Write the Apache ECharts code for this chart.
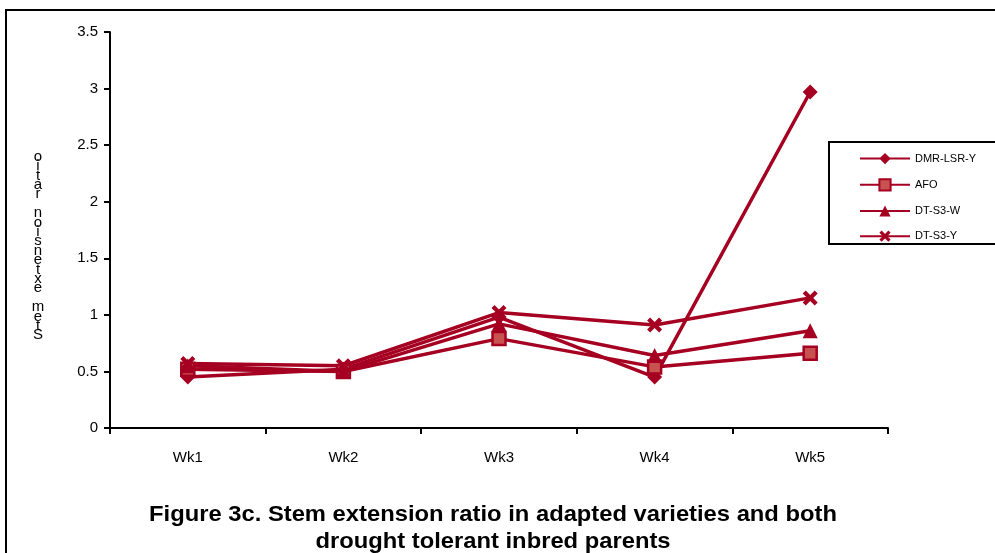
<!DOCTYPE html>
<html>
<head>
<meta charset="utf-8">
<script src="https://cdn.jsdelivr.net/npm/echarts@6/dist/echarts.min.js"></script>
<style>
  html, body { margin: 0; padding: 0; background: #fff; }
  #chart { width: 995px; height: 553px; }
</style>
</head>
<body>
<div id="chart"></div>
<script>
const weeks = ['Wk1', 'Wk2', 'Wk3', 'Wk4', 'Wk5']
const dmrLsrY = [0.45, 0.52, 0.98, 0.45, 2.97]
const afo = [0.52, 0.50, 0.79, 0.54, 0.66]
const dtS3W = [0.55, 0.50, 0.92, 0.64, 0.86]
const dtS3Y = [0.57, 0.55, 1.02, 0.91, 1.15]
const yTicks = [0, 0.5, 1, 1.5, 2, 2.5, 3, 3.5]

const lineColor = '#a50021'
const crossPath = 'path://M0,2L2,0L5,3L8,0L10,2L7,5L10,8L8,10L5,7L2,10L0,8L3,5Z'

const chart = echarts.init(document.getElementById('chart'))

function makeSeries(name, data, symbol, size, fill) {
  return {
    name: name,
    type: 'line',
    data: data,
    symbol: symbol,
    symbolSize: size,
    showAllSymbol: true,
    lineStyle: { color: lineColor, width: 3.5 },
    itemStyle: { color: fill || lineColor, borderColor: lineColor, borderWidth: fill ? 2.5 : 0 },
    emphasis: { disabled: true },
    z: 3,
  }
}

// upright letters stacked bottom-to-top, as in the original
const yLabel = 'Stem extension ratio'.split('').reverse().join('\n')

const option = {
  backgroundColor: '#fff',
  animation: false,
  textStyle: { fontFamily: 'Liberation Sans, Arial, sans-serif' },
  grid: { left: 110, right: 107, top: 32, bottom: 125 },
  legend: {
    orient: 'vertical',
    left: 854,
    top: 148,
    itemWidth: 50,
    itemHeight: 14,
    itemGap: 14,
    textStyle: { fontSize: 11, color: '#000', fontFamily: 'Liberation Sans, Arial, sans-serif' },
    data: ['DMR-LSR-Y', 'AFO', 'DT-S3-W', 'DT-S3-Y'],
  },
  xAxis: {
    type: 'category',
    data: weeks,
    boundaryGap: true,
    axisLine: { lineStyle: { color: '#000', width: 2 } },
    axisTick: { show: true, length: 6, lineStyle: { color: '#000', width: 2 } },
    axisLabel: { color: '#000', fontSize: 15, margin: 22 },
  },
  yAxis: {
    type: 'value',
    min: 0,
    max: 3.5,
    interval: 0.5,
    axisLine: { show: true, lineStyle: { color: '#000', width: 2 } },
    axisTick: { show: true, length: 6, lineStyle: { color: '#000', width: 2 } },
    splitLine: { show: false },
    axisLabel: {
      color: '#000',
      fontSize: 15,
      margin: 12,
      formatter: v => yTicks.includes(v) ? String(v) : '',
    },
  },
  graphic: [
    {
      type: 'rect',
      shape: { x: 6, y: 10, width: 1200, height: 800 },
      style: { fill: 'none', stroke: '#000', lineWidth: 2 },
      silent: true,
    },
    {
      type: 'rect',
      shape: { x: 829, y: 142, width: 200, height: 102 },
      style: { fill: '#fff', stroke: '#000', lineWidth: 2 },
      z: 0,
      silent: true,
    },
    {
      type: 'text',
      x: 38,
      y: 152,
      style: {
        text: yLabel,
        fontSize: 15,
        lineHeight: 9.4,
        fill: '#000',
        fontFamily: 'Liberation Sans, Arial, sans-serif',
        align: 'center',
      },
    },
    {
      type: 'text',
      x: 493,
      y: 501,
      scaleX: 1.08,
      style: {
        text: 'Figure 3c. Stem extension ratio in adapted varieties and both\ndrought tolerant inbred parents',
        fontSize: 22,
        fontWeight: 'bold',
        lineHeight: 27,
        fill: '#000',
        align: 'center',
        fontFamily: 'Liberation Sans, Arial, sans-serif',
      },
    },
  ],
  series: [
    makeSeries('DMR-LSR-Y', dmrLsrY, 'diamond', 15),
    makeSeries('AFO', afo, 'rect', 13, '#c8524f'),
    makeSeries('DT-S3-W', dtS3W, 'triangle', 15),
    makeSeries('DT-S3-Y', dtS3Y, crossPath, 15),
  ],
}

chart.setOption(option)
</script>
</body>
</html>
